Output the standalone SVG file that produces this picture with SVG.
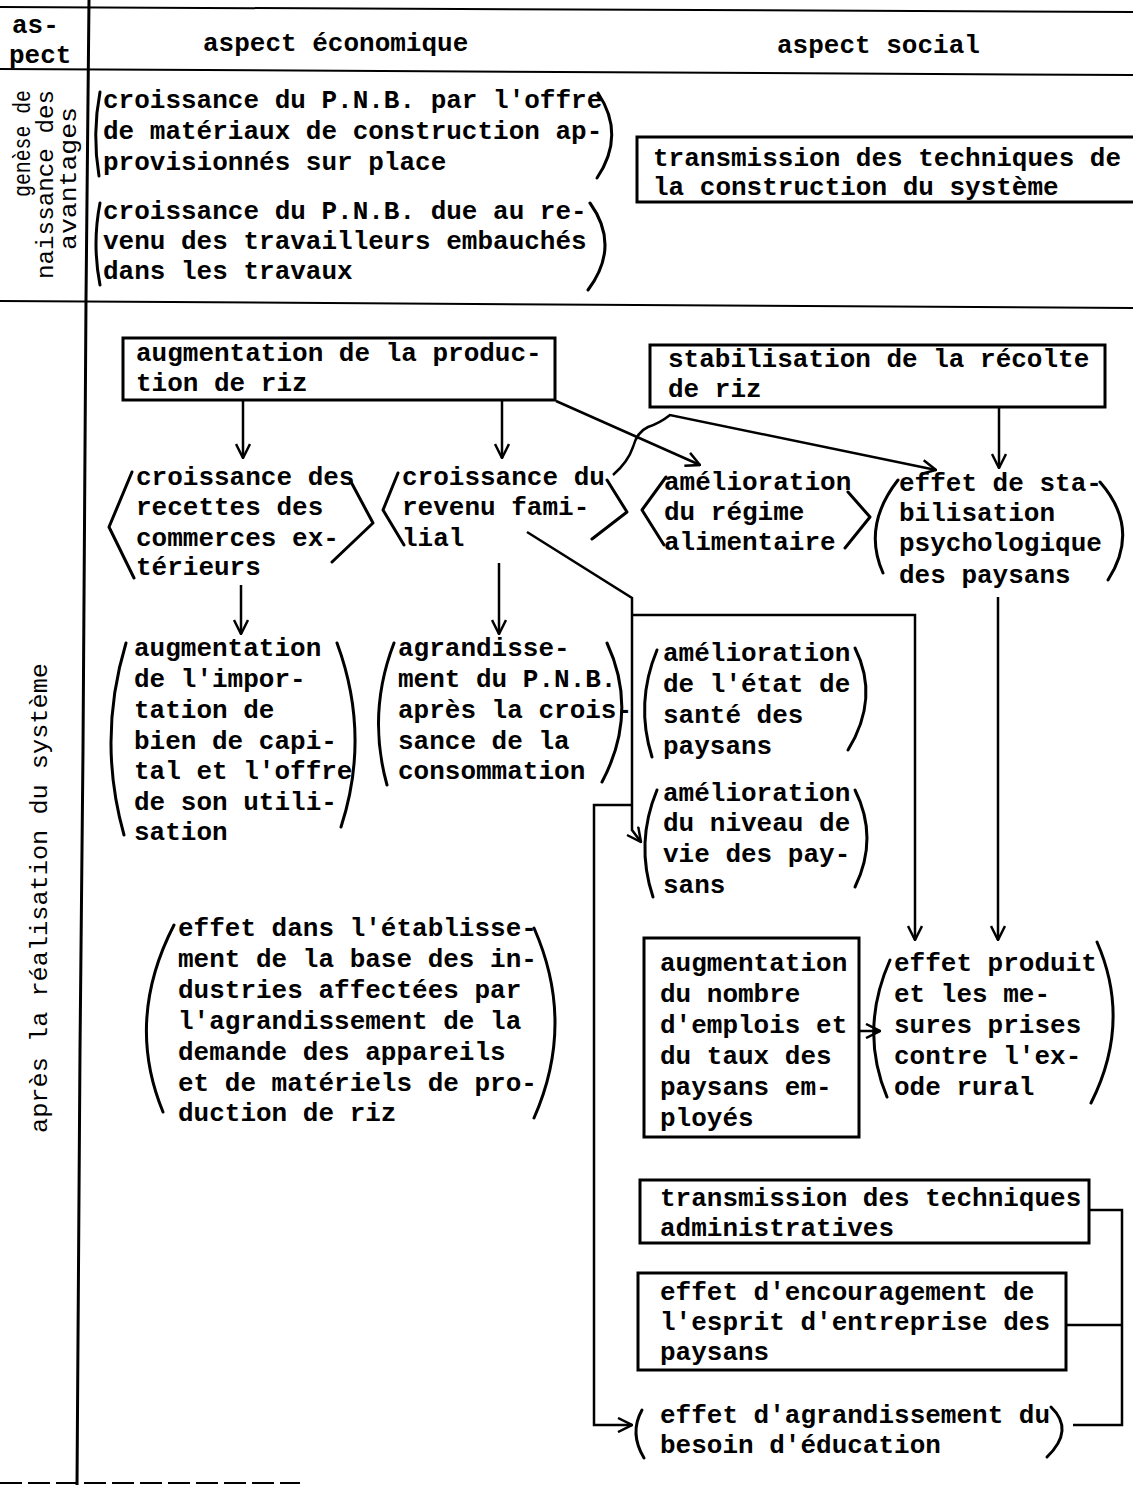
<svg xmlns="http://www.w3.org/2000/svg" width="1133" height="1485" viewBox="0 0 1133 1485">
<defs>
<style>
.t{font-family:"Liberation Mono","DejaVu Sans Mono",monospace;font-size:26px;font-weight:bold;fill:#000;}
.r{font-family:"Liberation Mono","DejaVu Sans Mono",monospace;font-size:24px;fill:#000;}
.ln{stroke:#000;stroke-width:2.5;fill:none;}
.grid{stroke:#000;stroke-width:2;fill:none;}
.box{stroke:#000;stroke-width:3;fill:none;}
.br{stroke:#000;stroke-width:3;fill:none;stroke-linecap:round;stroke-linejoin:round;}
</style>
<marker id="ah" viewBox="0 0 16 16" refX="15" refY="8" markerWidth="16" markerHeight="16" markerUnits="userSpaceOnUse" orient="auto">
<path d="M1,1 L15,8 L1,15" fill="none" stroke="#000" stroke-width="2.5"/>
</marker>
</defs>
<rect width="1133" height="1485" fill="#fff"/>

<g id="grid">
<line class="grid" x1="0" y1="7" x2="1133" y2="12"/>
<line class="grid" x1="0" y1="69" x2="1133" y2="75"/>
<line class="grid" x1="0" y1="301" x2="1133" y2="308"/>
<polyline class="box" points="89,0 86,300 83,750 80,1050 77,1485"/>
<line class="grid" x1="0" y1="1483" x2="300" y2="1483" stroke-dasharray="22 6"/>
</g>

<g id="header">
<text class="t" x="12" y="33">as-</text>
<text class="t" x="9" y="63">pect</text>
<text class="t" x="203" y="51">aspect économique</text>
<text class="t" x="777" y="53">aspect social</text>
</g>

<g id="row-labels">
<text class="r" transform="translate(30,197) rotate(-90)" textLength="107" lengthAdjust="spacingAndGlyphs">genèse de</text>
<text class="r" transform="translate(53,279) rotate(-90)" textLength="189" lengthAdjust="spacingAndGlyphs">naissance des</text>
<text class="r" transform="translate(76,250) rotate(-90)" textLength="143" lengthAdjust="spacingAndGlyphs">avantages</text>
<text class="r" transform="translate(47,1133) rotate(-90)" textLength="470" lengthAdjust="spacingAndGlyphs">après la réalisation du système</text>
</g>

<g id="n-pnb-offre">
<path class="br" d="M100,92 Q92,134 99,176"/>
<path class="br" d="M598,93 Q626,135 597,178"/>
<text class="t" x="103" y="108">croissance du P.N.B. par l'offre</text>
<text class="t" x="103" y="139">de matériaux de construction ap-</text>
<text class="t" x="103" y="170">provisionnés sur place</text>
</g>

<g id="n-pnb-revenu">
<path class="br" d="M100,203 Q92,244 100,285"/>
<path class="br" d="M590,203 Q621,246 588,290"/>
<text class="t" x="103" y="219">croissance du P.N.B. due au re-</text>
<text class="t" x="103" y="249">venu des travailleurs embauchés</text>
<text class="t" x="103" y="279">dans les travaux</text>
</g>

<g id="n-transmission-construction">
<rect class="box" x="637" y="137" width="520" height="65"/>
<text class="t" x="653" y="166">transmission des techniques de</text>
<text class="t" x="653" y="195">la construction du système</text>
</g>

<g id="n-augm-production">
<rect class="box" x="123" y="338" width="432" height="62"/>
<text class="t" x="136" y="361">augmentation de la produc-</text>
<text class="t" x="136" y="391">tion de riz</text>
</g>

<g id="n-stabilisation-recolte">
<rect class="box" x="650" y="345" width="455" height="62"/>
<text class="t" x="668" y="367">stabilisation de la récolte</text>
<text class="t" x="668" y="397">de riz</text>
</g>

<g id="n-recettes">
<polyline class="br" points="132,472 109,527 134,578"/>
<polyline class="br" points="350,480 373,523 332,562"/>
<text class="t" x="136" y="485">croissance des</text>
<text class="t" x="136" y="515">recettes des</text>
<text class="t" x="136" y="546">commerces ex-</text>
<text class="t" x="136" y="575">térieurs</text>
</g>

<g id="n-revenu-familial">
<polyline class="br" points="398,473 383,510 404,545"/>
<polyline class="br" points="607,480 627,512 592,539"/>
<text class="t" x="402" y="485">croissance du</text>
<text class="t" x="402" y="515">revenu fami-</text>
<text class="t" x="402" y="546">lial</text>
</g>

<g id="n-regime">
<polyline class="br" points="666,477 642,510 664,545"/>
<polyline class="br" points="848,492 870,517 845,548"/>
<text class="t" x="664" y="490">amélioration</text>
<text class="t" x="664" y="520">du régime</text>
<text class="t" x="664" y="550">alimentaire</text>
</g>

<g id="n-stab-psycho">
<path class="br" d="M898,480 Q862,526 883,573"/>
<path class="br" d="M1100,482 Q1141,529 1108,580"/>
<text class="t" x="899" y="491">effet de sta-</text>
<text class="t" x="899" y="521">bilisation</text>
<text class="t" x="899" y="551">psychologique</text>
<text class="t" x="899" y="583">des paysans</text>
</g>

<g id="n-importation">
<path class="br" d="M126,643 Q97,739 124,835"/>
<path class="br" d="M337,643 Q371,735 341,827"/>
<text class="t" x="134" y="656">augmentation</text>
<text class="t" x="134" y="687">de l'impor-</text>
<text class="t" x="134" y="718">tation de</text>
<text class="t" x="134" y="749">bien de capi-</text>
<text class="t" x="134" y="779">tal et l'offre</text>
<text class="t" x="134" y="810">de son utili-</text>
<text class="t" x="134" y="840">sation</text>
</g>

<g id="n-agrandissement-pnb">
<path class="br" d="M394,643 Q367,713 387,785"/>
<path class="br" d="M607,643 Q639,712 602,782"/>
<text class="t" x="398" y="656">agrandisse-</text>
<text class="t" x="398" y="687">ment du P.N.B.</text>
<text class="t" x="398" y="718">après la crois-</text>
<text class="t" x="398" y="749">sance de la</text>
<text class="t" x="398" y="779">consommation</text>
</g>

<g id="n-sante">
<path class="br" d="M657,650 Q635,703 652,757"/>
<path class="br" d="M855,648 Q880,698 848,750"/>
<text class="t" x="663" y="661">amélioration</text>
<text class="t" x="663" y="692">de l'état de</text>
<text class="t" x="663" y="723">santé des</text>
<text class="t" x="663" y="754">paysans</text>
</g>

<g id="n-niveau-vie">
<path class="br" d="M657,790 Q635,843 653,897"/>
<path class="br" d="M855,790 Q879,838 855,887"/>
<text class="t" x="663" y="801">amélioration</text>
<text class="t" x="663" y="831">du niveau de</text>
<text class="t" x="663" y="862">vie des pay-</text>
<text class="t" x="663" y="893">sans</text>
</g>

<g id="n-industries">
<path class="br" d="M174,925 Q125,1020 163,1112"/>
<path class="br" d="M534,928 Q576,1023 534,1118"/>
<text class="t" x="178" y="936">effet dans l'établisse-</text>
<text class="t" x="178" y="967">ment de la base des in-</text>
<text class="t" x="178" y="998">dustries affectées par</text>
<text class="t" x="178" y="1029">l'agrandissement de la</text>
<text class="t" x="178" y="1060">demande des appareils</text>
<text class="t" x="178" y="1091">et de matériels de pro-</text>
<text class="t" x="178" y="1121">duction de riz</text>
</g>

<g id="n-emplois">
<rect class="box" x="644" y="938" width="215" height="199"/>
<text class="t" x="660" y="971">augmentation</text>
<text class="t" x="660" y="1002">du nombre</text>
<text class="t" x="660" y="1033">d'emplois et</text>
<text class="t" x="660" y="1064">du taux des</text>
<text class="t" x="660" y="1095">paysans em-</text>
<text class="t" x="660" y="1126">ployés</text>
</g>

<g id="n-exode">
<path class="br" d="M890,960 Q859,1030 887,1097"/>
<path class="br" d="M1097,942 Q1132,1022 1091,1103"/>
<text class="t" x="894" y="971">effet produit</text>
<text class="t" x="894" y="1002">et  les me-</text>
<text class="t" x="894" y="1033">sures prises</text>
<text class="t" x="894" y="1064">contre l'ex-</text>
<text class="t" x="894" y="1095">ode rural</text>
</g>

<g id="n-transmission-admin">
<rect class="box" x="640" y="1180" width="449" height="63"/>
<text class="t" x="660" y="1206">transmission des techniques</text>
<text class="t" x="660" y="1236">administratives</text>
</g>

<g id="n-esprit-entreprise">
<rect class="box" x="638" y="1273" width="428" height="97"/>
<text class="t" x="660" y="1300">effet d'encouragement de</text>
<text class="t" x="660" y="1330">l'esprit d'entreprise des</text>
<text class="t" x="660" y="1360">paysans</text>
</g>

<g id="n-education">
<path class="br" d="M642,1410 Q629,1433 644,1458"/>
<path class="br" d="M1051,1407 Q1075,1430 1047,1457"/>
<text class="t" x="660" y="1423">effet d'agrandissement du</text>
<text class="t" x="660" y="1453">besoin d'éducation</text>
</g>

<g id="connectors">
<line class="ln" x1="243" y1="400" x2="243" y2="458" marker-end="url(#ah)"/>
<line class="ln" x1="502" y1="400" x2="502" y2="458" marker-end="url(#ah)"/>
<line class="ln" x1="556" y1="401" x2="700" y2="465" marker-end="url(#ah)"/>
<path class="ln" d="M613,475 Q628,462 633,447 Q637,432 648,427 Q660,423 670,415 L936,470" marker-end="url(#ah)"/>
<line class="ln" x1="999" y1="407" x2="999" y2="468" marker-end="url(#ah)"/>
<line class="ln" x1="241" y1="585" x2="241" y2="634" marker-end="url(#ah)"/>
<line class="ln" x1="499" y1="563" x2="499" y2="634" marker-end="url(#ah)"/>
<path class="ln" d="M527,532 L632,598 L632,830 L641,842" marker-end="url(#ah)"/>
<path class="ln" d="M632,615 L915,615 L915,940" marker-end="url(#ah)"/>
<line class="ln" x1="998" y1="597" x2="998" y2="940" marker-end="url(#ah)"/>
<line class="ln" x1="859" y1="1031" x2="880" y2="1031" marker-end="url(#ah)"/>
<path class="ln" d="M632,805 L594,805 L594,1425 L632,1425" marker-end="url(#ah)"/>
<path class="ln" d="M1089,1210 L1122,1210 L1122,1425 L1073,1425"/>
<line class="ln" x1="1066" y1="1325" x2="1122" y2="1325"/>
</g>
</svg>
